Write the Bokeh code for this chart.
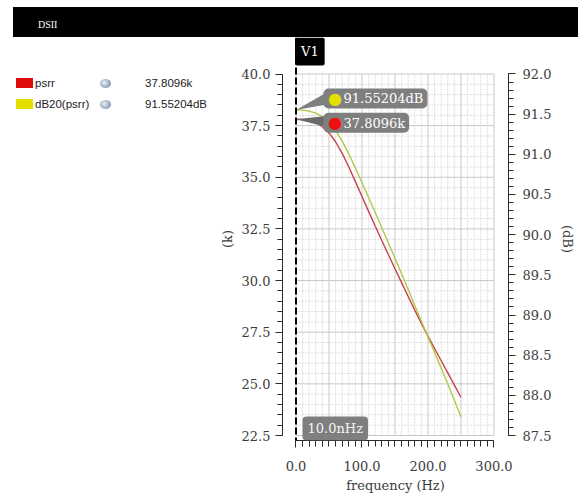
from bokeh.plotting import figure
from bokeh.models import Range1d, LinearAxis, FixedTicker, Label, Span, PrintfTickFormatter, Div
from bokeh.layouts import column, row
from bokeh.embed import file_html
from bokeh.resources import INLINE

# ---------------- data ----------------
freq_hz = [0, 10, 20, 30, 40, 50, 60, 70, 80, 90, 100, 110, 120, 130, 140, 150,
           160, 170, 180, 190, 200, 210, 220, 230, 240, 250]
psrr_k = [37.81, 37.80, 37.75, 37.64, 37.45, 37.15, 36.72, 36.16, 35.50, 34.79,
          34.07, 33.35, 32.64, 31.94, 31.25, 30.57, 29.90, 29.23, 28.57, 27.93,
          27.31, 26.71, 26.12, 25.53, 24.94, 24.35]
psrr_db = [91.552, 91.550, 91.538, 91.513, 91.469, 91.399, 91.298, 91.165, 91.005,
           90.829, 90.647, 90.462, 90.275, 90.087, 89.897, 89.706, 89.513, 89.317,
           89.118, 88.921, 88.726, 88.533, 88.339, 88.141, 87.938, 87.730]

x_ticks = [0.0, 100.0, 200.0, 300.0]
k_ticks = [22.5, 25.0, 27.5, 30.0, 32.5, 35.0, 37.5, 40.0]
db_ticks = [87.5, 88.0, 88.5, 89.0, 89.5, 90.0, 90.5, 91.0, 91.5, 92.0]
x_grid_major = [0.0, 50.0, 100.0, 150.0, 200.0, 250.0, 300.0]

series_names = ["psrr", "dB20(psrr)"]
cursor_name = "V1"
cursor_freq = 1e-8
cursor_text = "10.0nHz"
marker_k = 37.8096
marker_db = 91.55204
marker_k_text = "37.8096k"
marker_db_text = "91.55204dB"
window_title = "DSII"

# ---------------- styling / layout ----------------
RED_LINE = "#c8404c"
YEL_LINE = "#b4c846"
RED_SW = "#e00c0c"
YEL_SW = "#e2e000"
TAG_GRAY = "#7f7f7f"
AXIS_COL = "#2a2a2a"
LBL_COL = "#3c3c3c"
SERIF = "DejaVu Serif"

HDR_TOP, HDR_H = 7, 30
LEG_W = 210
W, H = 368, 460
MBL, MBR, MBT, MBB = 72, 70, 0, 57
frame_w = W - MBL - MBR
frame_h = H - MBT - MBB
x_lo, x_hi = -20.45, 322.0
k_lo, k_hi = 22.258, 41.767
db_lo, db_hi = 87.438, 92.454
px_per_hz = frame_w / (x_hi - x_lo)
px_per_k = frame_h / (k_hi - k_lo)
px_per_db = frame_h / (db_hi - db_lo)

x_minor = [10.0 * i for i in range(31)]
k_minor = [22.5 + 0.5 * i for i in range(36)]
db_minor = [87.5 + 0.1 * i for i in range(46)]

# ---------------- header bar ----------------
hdr = Div(text=('<div style="box-sizing:border-box;height:%dpx;padding:13px 0 0 25px;'
                'background:#000000;font-family:\'Liberation Serif\';font-size:10px;'
                'line-height:10px;color:#ffffff;">%s</div>' % (HDR_H, window_title)),
          width=565, height=HDR_H, margin=(HDR_TOP, 0, 0, 13),
          styles={"background-color": "#000000", "overflow": "hidden"})

# ---------------- legend (left of the plot) ----------------
leg_rows = [(series_names[0], RED_SW, marker_k_text, 41),
            (series_names[1], YEL_SW, marker_db_text, 62)]
leg_html = ['<div style="position:relative;width:%dpx;height:120px;font-family:\'Liberation Sans\';'
            'font-size:11.5px;color:#1c1c1c;">' % LEG_W]
for name, col, val, top in leg_rows:
    leg_html.append('<div style="position:absolute;left:16px;top:%dpx;width:17px;height:10px;'
                    'background:%s;"></div>' % (top, col))
    leg_html.append('<div style="position:absolute;left:35px;top:%dpx;line-height:14px;'
                    'white-space:nowrap;">%s</div>' % (top - 2, name))
    leg_html.append('<div style="position:absolute;left:100px;top:%dpx;width:11px;height:9px;'
                    'border-radius:50%%;background:radial-gradient(circle at 40%% 40%%, #e8eef6 0%%, '
                    '#9fb0c6 55%%, #6f7f94 100%%);"></div>' % (top + 1))
    leg_html.append('<div style="position:absolute;left:145px;top:%dpx;line-height:14px;'
                    'white-space:nowrap;">%s</div>' % (top - 2, val))
leg_html.append('</div>')
leg = Div(text="".join(leg_html), width=LEG_W, height=H, margin=(0, 0, 0, 0))

# ---------------- main plot ----------------
p = figure(width=W, height=H, output_backend="svg", toolbar_location=None,
           x_range=Range1d(x_lo, x_hi), y_range=Range1d(k_lo, k_hi),
           min_border_left=MBL, min_border_right=MBR, min_border_top=MBT, min_border_bottom=MBB)
p.outline_line_color = None
p.background_fill_color = "white"
p.border_fill_color = "white"
p.grid.visible = False
p.extra_y_ranges = {"db": Range1d(db_lo, db_hi)}

# grid (minor then major), confined to the axis bounds
gx0, gx1 = x_ticks[0], x_ticks[-1]
gy0, gy1 = k_ticks[0], k_ticks[-1]
mx = [v for v in x_minor if v not in x_grid_major]
my = [v for v in k_minor if v not in k_ticks]
p.segment(x0=mx, y0=[gy0] * len(mx), x1=mx, y1=[gy1] * len(mx),
          line_color="#dedede", line_width=1, line_dash="2 1")
p.segment(x0=[gx0] * len(my), y0=my, x1=[gx1] * len(my), y1=my,
          line_color="#dedede", line_width=1, line_dash="2 1")
p.segment(x0=x_grid_major, y0=[gy0] * len(x_grid_major), x1=x_grid_major, y1=[gy1] * len(x_grid_major),
          line_color="#c8c8c8", line_width=1)
p.segment(x0=[gx0] * len(k_ticks), y0=k_ticks, x1=[gx1] * len(k_ticks), y1=k_ticks,
          line_color="#c8c8c8", line_width=1)

# curves
p.line(freq_hz, psrr_k, line_color=RED_LINE, line_width=1.4)
p.line(freq_hz, psrr_db, y_range_name="db", line_color=YEL_LINE, line_width=1.4)

def style_axis(ax):
    ax.axis_line_color = AXIS_COL
    ax.major_tick_line_color = AXIS_COL
    ax.minor_tick_line_color = AXIS_COL
    ax.major_tick_in = 0
    ax.minor_tick_in = 0
    ax.major_tick_out = 7
    ax.minor_tick_out = 5
    ax.major_label_text_font = SERIF
    ax.major_label_text_font_size = "13px"
    ax.major_label_text_color = LBL_COL
    ax.axis_label_text_font = SERIF
    ax.axis_label_text_font_size = "13px"
    ax.axis_label_text_font_style = "normal"
    ax.axis_label_text_color = LBL_COL
    ax.formatter = PrintfTickFormatter(format="%.1f")

xa = p.xaxis[0]
style_axis(xa)
xa.ticker = FixedTicker(ticks=x_ticks, minor_ticks=x_minor)
xa.bounds = (x_ticks[0], x_ticks[-1])
xa.axis_label = "frequency (Hz)"
xa.major_label_standoff = 13
xa.axis_label_standoff = 4
xa.major_tick_out = 7
xa.minor_tick_out = 6

ya = p.yaxis[0]
style_axis(ya)
ya.ticker = FixedTicker(ticks=k_ticks, minor_ticks=k_minor)
ya.bounds = (k_ticks[0], k_ticks[-1])
ya.axis_label = "(k)"
ya.major_label_standoff = 5
ya.axis_label_standoff = 4

ra = LinearAxis(y_range_name="db")
style_axis(ra)
ra.ticker = FixedTicker(ticks=db_ticks, minor_ticks=db_minor)
ra.bounds = (db_ticks[0], db_ticks[-1])
ra.major_label_standoff = 7
ra.axis_label = "(dB)"
ra.axis_label_standoff = 6
p.add_layout(ra, "right")

# cursor
p.add_layout(Span(location=cursor_freq, dimension="height", line_color="black",
                  line_width=2, line_dash="7 3"))

# marker pointer wedges
def wedge(y_val, ppy, pts):
    xs = [cursor_freq + dx / px_per_hz for dx, dy in pts]
    ys = [y_val + dy / ppy for dx, dy in pts]
    return xs, ys

wx, wy = wedge(marker_db, px_per_db, [(0, 0), (28, 16), (28, 5)])
p.patch(wx, wy, y_range_name="db", fill_color=TAG_GRAY, line_color=None)
wx, wy = wedge(marker_k, px_per_k, [(0, 0), (28, 3), (28, -7)])
p.patch(wx, wy, fill_color="#6a6a6a", line_color=None)

def tag(y_val, rng, text, dot_color, dy):
    kw = {} if rng is None else {"y_range_name": rng}
    p.add_layout(Label(x=cursor_freq, y=y_val, x_offset=27.5, y_offset=dy, text=text,
                       anchor="center_left", text_color="white", text_font=SERIF,
                       text_font_size="13px", background_fill_color=TAG_GRAY,
                       padding=dict(left=20, right=4, top=3, bottom=2), border_radius=5, **kw))
    p.add_layout(Label(x=cursor_freq, y=y_val, x_offset=39, y_offset=dy, text="\u25cf",
                       anchor="center", text_color=dot_color, text_font="DejaVu Sans",
                       text_font_size="16px", **kw))

tag(marker_db, "db", marker_db_text, YEL_SW, 11.5)
tag(marker_k, None, marker_k_text, "#ee1010", -3.5)

# cursor name tag (top) and x value tag (bottom)
p.add_layout(Label(x=cursor_freq, y=frame_h, y_units="screen", x_offset=-1, text=cursor_name,
                   anchor="top_left", text_color="white", text_font=SERIF,
                   text_font_size="13px", background_fill_color="black",
                   padding=dict(left=6, right=6, top=6, bottom=7), border_radius=2))
p.add_layout(Label(x=20, y=0, x_units="screen", y_units="screen", text=cursor_text,
                   anchor="bottom_left", text_color="#f4f4f4", text_font=SERIF,
                   text_font_size="13px", background_fill_color=TAG_GRAY,
                   padding=dict(left=5, right=5, top=4, bottom=5), border_radius=4))

layout = column(hdr, row(leg, p))
open("out.html", "w").write(file_html(layout, INLINE))
